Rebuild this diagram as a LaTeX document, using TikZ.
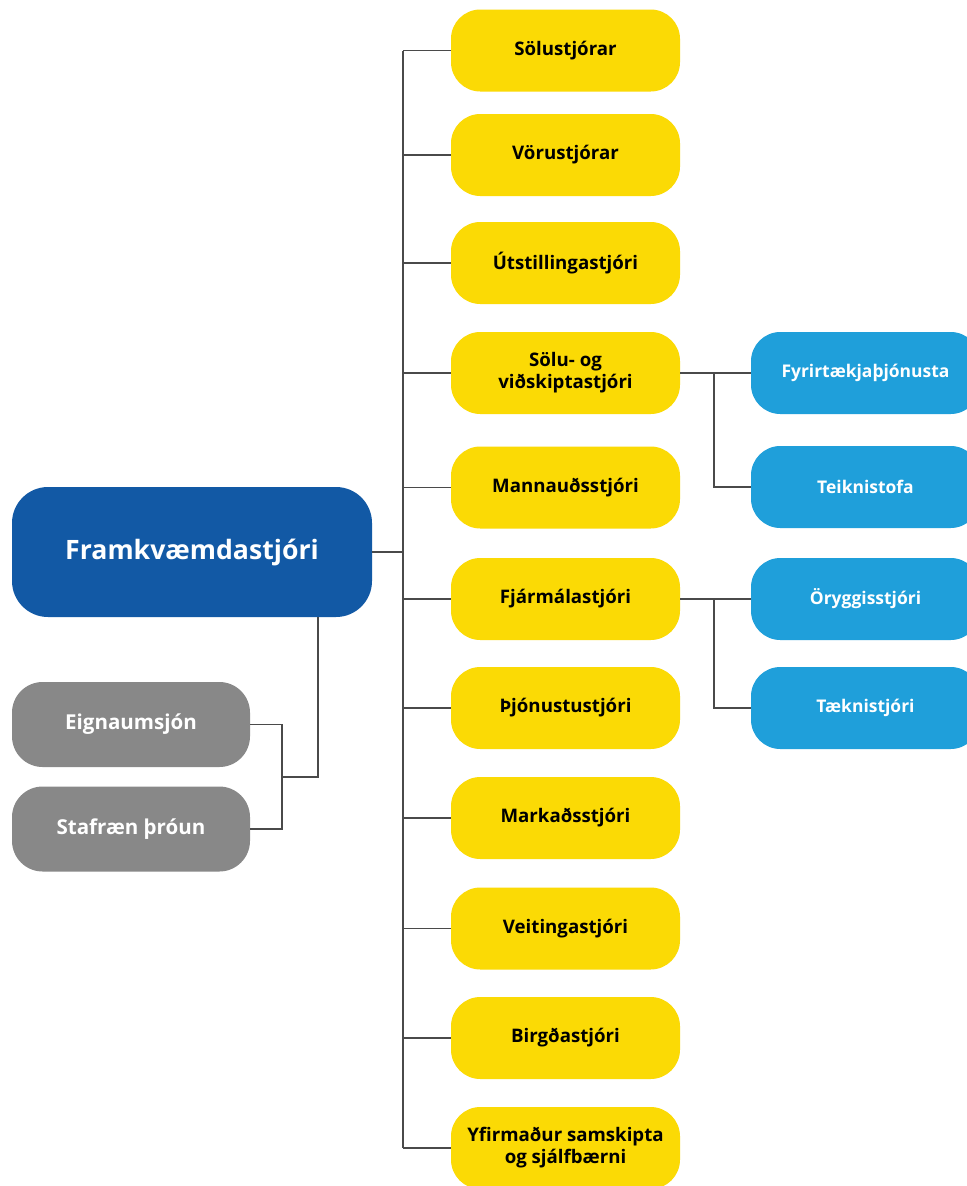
\documentclass[tikz,border=0pt]{standalone}
\usepackage{fontspec}
\setmainfont{Open Sans}
\definecolor{yel}{HTML}{FBDA05}
\definecolor{dblue}{HTML}{1259A5}
\definecolor{lblue}{HTML}{1F9FDA}
\definecolor{gry}{HTML}{888888}
\definecolor{ln}{HTML}{4A4A4A}
\tikzset{
  ybox/.style={fill=yel, rounded corners=22pt, minimum width=171.75pt, minimum height=61.5pt, inner sep=2pt, align=center, text=black, font=\bfseries\fontsize{14}{16.5}\selectfont},
  bbox/.style={fill=lblue, rounded corners=22pt, minimum width=171.75pt, minimum height=61.5pt, inner sep=2pt, align=center, text=white, font=\bfseries\fontsize{13.1}{16}\selectfont},
  gbox/.style={fill=gry, rounded corners=23pt, minimum width=178.5pt, minimum height=63.75pt, inner sep=2pt, align=center, text=white, font=\bfseries\fontsize{15.4}{18}\selectfont},
  mbox/.style={fill=dblue, rounded corners=27pt, minimum width=270pt, minimum height=97.5pt, inner sep=2pt, align=center, text=white, font=\bfseries\fontsize{20}{24}\selectfont},
  conn/.style={draw=ln, line width=0.9pt}
}
\begin{document}
\begin{tikzpicture}[x=0.75pt, y=-0.75pt]
\useasboundingbox (0,0) rectangle (967,1186);
\clip (0,0) rectangle (967,1186);
\fill[white] (0,0) rectangle (967,1186);

\node[mbox] (main) at (192,552) {Framkvæmdastjóri};
\node[gbox] (g1) at (131,724.5) {Eignaumsjón};
\node[gbox] (g2) at (131,829) {Stafræn þróun};

\node[ybox] (y1) at (565.5,50.5) {Sölustjórar};
\node[ybox] (y2) at (565.5,155) {Vörustjórar};
\node[ybox] (y3) at (565.5,263) {Útstillingastjóri};
\node[ybox] (y4) at (565.5,373) {Sölu- og\\viðskiptastjóri};
\node[ybox] (y5) at (565.5,487.5) {Mannauðsstjóri};
\node[ybox] (y6) at (565.5,599) {Fjármálastjóri};
\node[ybox] (y7) at (565.5,708) {Þjónustustjóri};
\node[ybox] (y8) at (565.5,818) {Markaðsstjóri};
\node[ybox] (y9) at (565.5,928.5) {Veitingastjóri};
\node[ybox] (y10) at (565.5,1038) {Birgðastjóri};
\node[ybox] (y11) at (565.5,1148) {Yfirmaður samskipta\\og sjálfbærni};

\node[bbox] (b1) at (865.5,373) {Fyrirtækjaþjónusta};
\node[bbox] (b2) at (865.5,487) {Teiknistofa};
\node[bbox] (b3) at (865.5,599) {Öryggisstjóri};
\node[bbox] (b4) at (865.5,708) {Tæknistjóri};

\coordinate (tk) at (403,0);
\coordinate (gk) at (282,0);
\coordinate (bk) at (714,0);
\coordinate (md) at (318,777);

% trunk to yellow boxes
\draw[conn] (main.east) -- (main.east -| tk);
\draw[conn] (y1.west -| tk) -- (y11.west -| tk);
\foreach \n in {y1,y2,y3,y4,y5,y6,y7,y8,y9,y10,y11}
  \draw[conn] (\n.west -| tk) -- (\n.west);

% left branch
\draw[conn] (main.south -| md) -- (md) -- (md -| gk);
\draw[conn] (g1.east) -- (g1.east -| gk) -- (g2.east -| gk) -- (g2.east);

% blue branches
\draw[conn] (y4.east) -- (b1.west);
\draw[conn] (y4.east -| bk) -- (b2.west -| bk) -- (b2.west);
\draw[conn] (y6.east) -- (b3.west);
\draw[conn] (y6.east -| bk) -- (b4.west -| bk) -- (b4.west);
\end{tikzpicture}
\end{document}
